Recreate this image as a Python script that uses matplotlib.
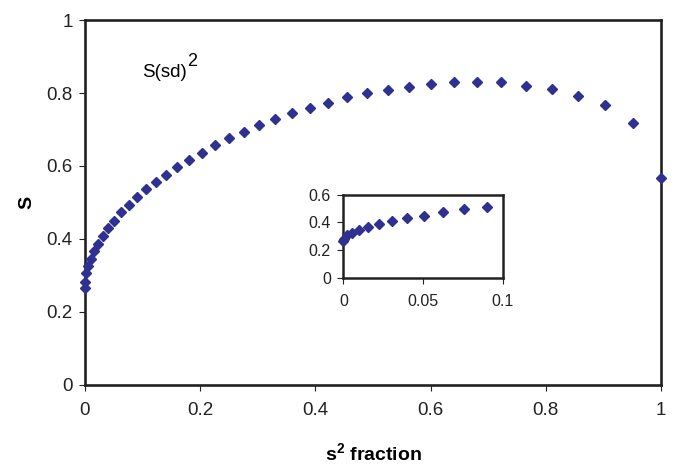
#!/usr/bin/env python3
"""S against s^2 fraction, with a zoomed inset near zero."""

from matplotlib import pyplot as plt
from matplotlib import font_manager

# values
s2_fraction = [0.0, 0.0006, 0.0025, 0.0056, 0.01, 0.0156, 0.0225, 0.0306,
               0.04, 0.0506, 0.0625, 0.0756, 0.09, 0.1056, 0.1225, 0.1406,
               0.16, 0.1806, 0.2025, 0.2256, 0.25, 0.2756, 0.3025, 0.3306,
               0.36, 0.3906, 0.4225, 0.4556, 0.49, 0.5256, 0.5625, 0.6006,
               0.64, 0.6806, 0.7225, 0.7656, 0.81, 0.8556, 0.9025, 0.9506,
               1.0]
s_values = [0.265, 0.283, 0.306, 0.326, 0.345, 0.366, 0.386, 0.409,
            0.430, 0.450, 0.474, 0.494, 0.514, 0.536, 0.555, 0.575,
            0.596, 0.616, 0.636, 0.657, 0.676, 0.693, 0.712, 0.728,
            0.745, 0.760, 0.773, 0.788, 0.799, 0.808, 0.816, 0.825,
            0.829, 0.829, 0.829, 0.820, 0.812, 0.793, 0.766, 0.718,
            0.566]
main_xticks = [0, 0.2, 0.4, 0.6, 0.8, 1]
main_xlabels = ['0', '0.2', '0.4', '0.6', '0.8', '1']
main_yticks = [0, 0.2, 0.4, 0.6, 0.8, 1]
main_ylabels = ['0', '0.2', '0.4', '0.6', '0.8', '1']
inset_count = 13
inset_xticks = [0, 0.05, 0.1]
inset_xlabels = ['0', '0.05', '0.1']
inset_yticks = [0, 0.2, 0.4, 0.6]
inset_ylabels = ['0', '0.2', '0.4', '0.6']

MARKER_COLOR = '#2e3192'
SPINE_COLOR = '#222222'

plt.rcParams['font.family'] = ['Liberation Sans', 'DejaVu Sans']
plt.rcParams['font.size'] = 13.5
plt.rcParams['mathtext.fontset'] = 'custom'
plt.rcParams['mathtext.rm'] = 'Liberation Sans'
plt.rcParams['mathtext.bf'] = 'Liberation Sans:bold'

# narrow face for the x label if there is one
try:
    font_manager.findfont(
        font_manager.FontProperties(family='Liberation Sans Narrow'),
        fallback_to_default=False)
    XLABEL_FAMILY = 'Liberation Sans Narrow'
    XLABEL_SIZE = 17
except ValueError:
    XLABEL_FAMILY = 'Liberation Sans'
    XLABEL_SIZE = 14


def style_axes(axis, width, labelsize):
    """Box frame and outward ticks."""
    for spine in axis.spines.values():
        spine.set_linewidth(width)
        spine.set_color(SPINE_COLOR)
    axis.tick_params(direction='out', length=4, width=0.8,
                     colors=SPINE_COLOR, labelcolor='#222222', pad=5,
                     labelsize=labelsize)


fig = plt.figure(figsize=(6.8, 4.66), dpi=100)
ax = fig.add_axes([0.125, 0.174, 0.847, 0.783])
ax.plot(s2_fraction, s_values, linestyle='none', marker='D',
        markersize=5.5, color=MARKER_COLOR, clip_on=False, zorder=3)
ax.set_xlim(0, 1)
ax.set_ylim(0, 1)
ax.set_xticks(main_xticks)
ax.set_xticklabels(main_xlabels)
ax.set_yticks(main_yticks)
ax.set_yticklabels(main_ylabels)
style_axes(ax, 1.9, 13.5)
ax.tick_params(axis='x', pad=8.5)
ax.set_xlabel('s$^\\mathbf{2}$ fraction', fontsize=XLABEL_SIZE,
              fontweight='bold', family=XLABEL_FAMILY, labelpad=17)
ax.set_ylabel('S', fontsize=14, fontweight='bold', labelpad=8)
ax.text(0.100, 0.843, 'S(sd)', transform=ax.transAxes, fontsize=13.5,
        va='baseline')
ax.text(0.178, 0.874, '2', transform=ax.transAxes, fontsize=13,
        va='baseline')

inset = fig.add_axes([0.505, 0.404, 0.234, 0.178])
inset.plot(s2_fraction[:inset_count], s_values[:inset_count],
           linestyle='none', marker='D', markersize=5,
           color=MARKER_COLOR, clip_on=False, zorder=3)
inset.set_xlim(0, 0.1)
inset.set_ylim(0, 0.6)
inset.set_xticks(inset_xticks)
inset.set_xticklabels(inset_xlabels)
inset.set_yticks(inset_yticks)
inset.set_yticklabels(inset_ylabels)
style_axes(inset, 1.8, 11.5)
inset.tick_params(axis='x', pad=8)

fig.savefig('out.png', dpi=100)
